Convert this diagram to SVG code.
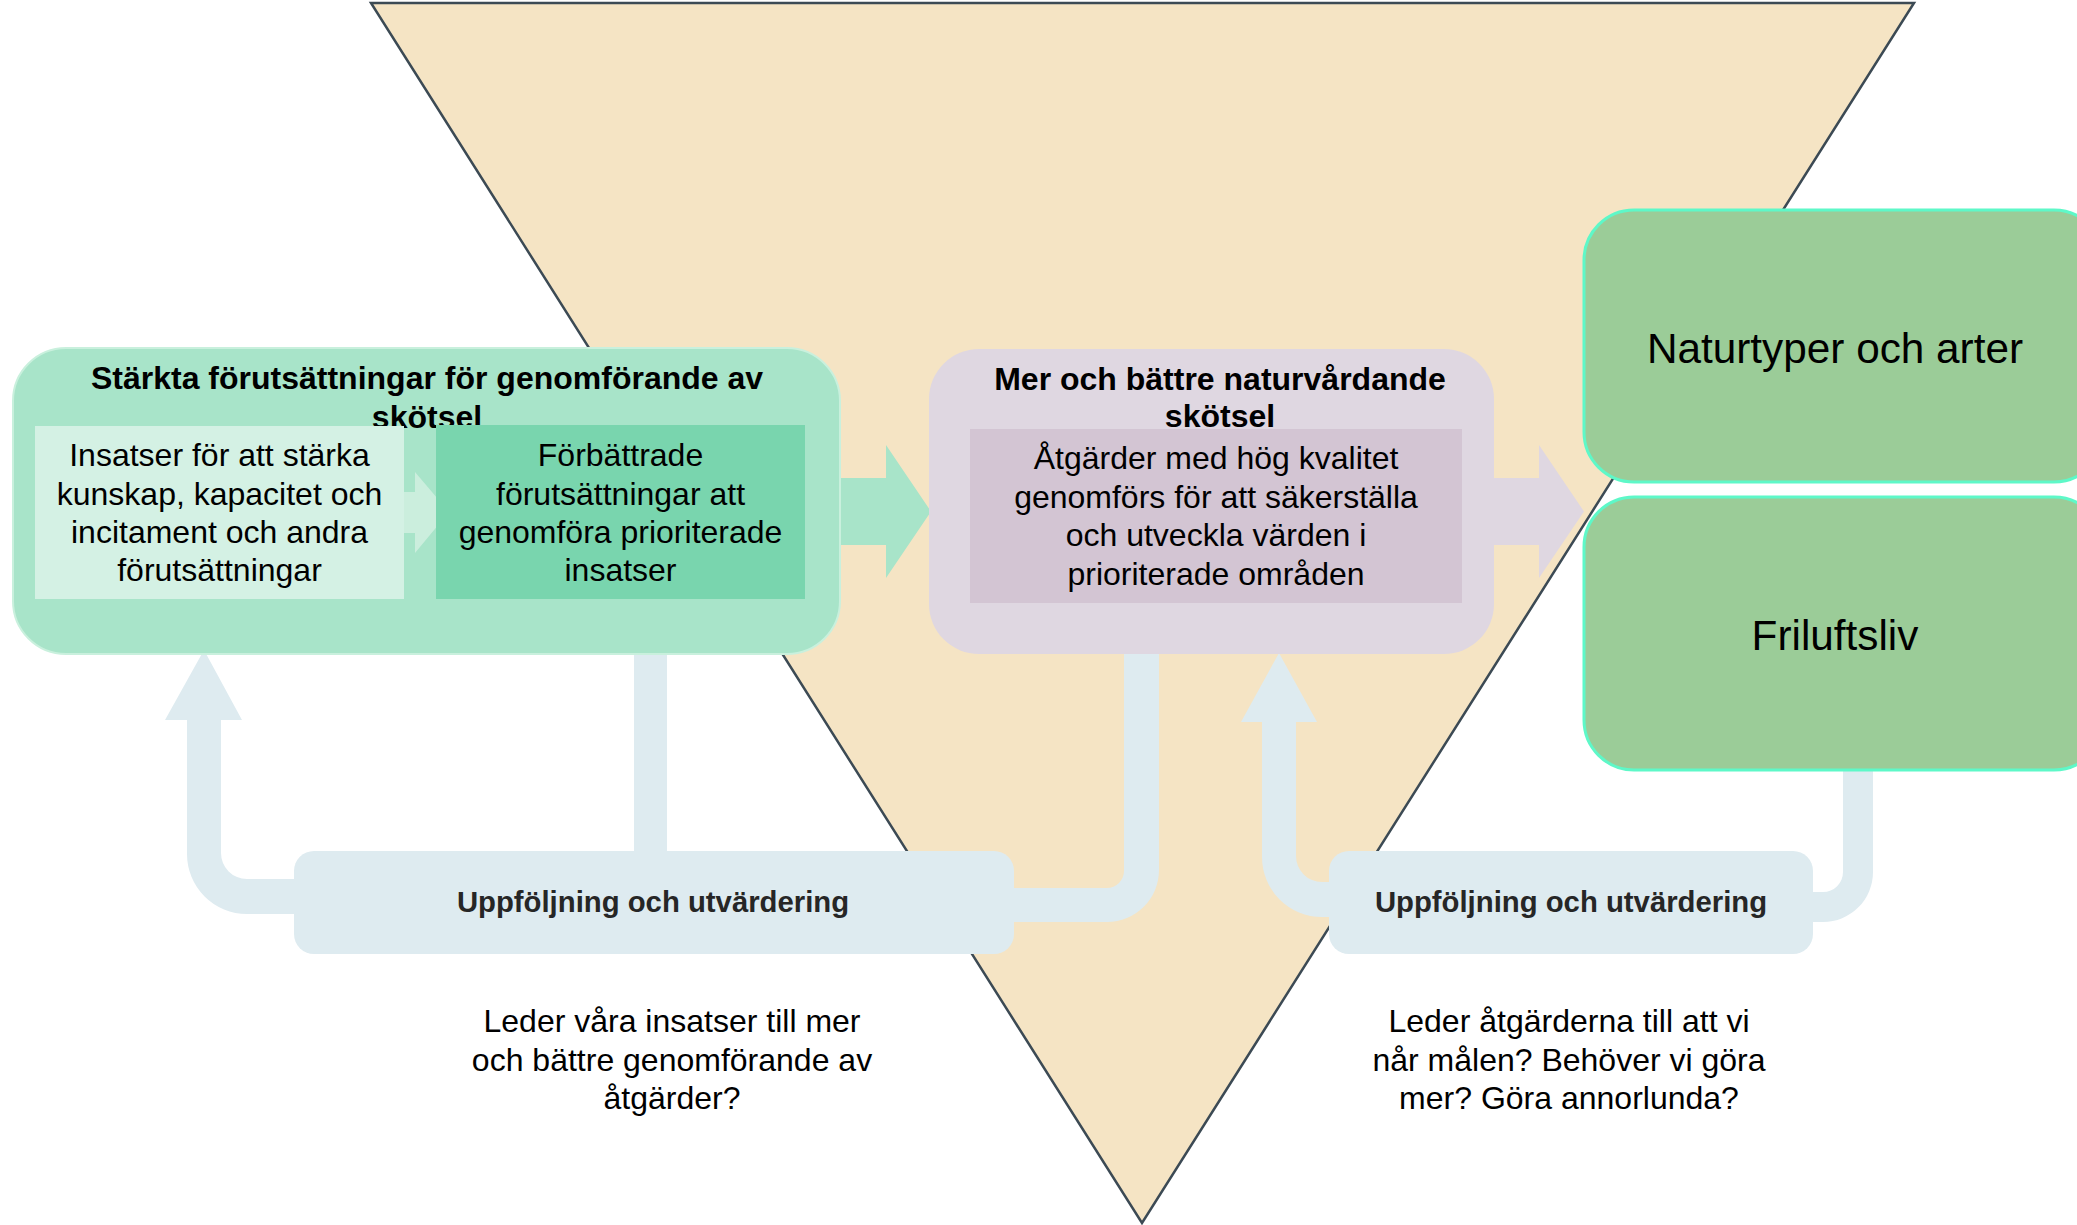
<svg xmlns="http://www.w3.org/2000/svg" width="2077" height="1225" viewBox="0 0 2077 1225">
<style>
text{font-family:"Liberation Sans",Arial,sans-serif;text-anchor:middle;fill:#000}
.t{font-size:32px;font-weight:bold}
.b{font-size:32px}
.fb{font-size:29.3px;font-weight:bold;fill:#262626}
.big{font-size:42.3px}
.loop{fill:#deebf0}
</style>
<rect width="2077" height="1225" fill="#fff"/>
<g id="triangle">
<polygon points="371,3 1914,3 1142,1223" fill="#f5e4c4" stroke="#3c4a54" stroke-width="2.5" stroke-linejoin="miter"/>
</g>
<g id="connectors">
<path class="loop" d="M300,914 L247,914 A60,60 0 0 1 187,854 L187,720 L165,720 L204,650 L242,720 L221,720 L221,853 A26,26 0 0 0 247,879 L300,879 Z"/>
<rect class="loop" x="634" y="645" width="33" height="212"/>
<path class="loop" d="M1159,645 L1159,870 A52,52 0 0 1 1107,922 L1005,922 L1005,888 L1107,888 A17,17 0 0 0 1124,871 L1124,645 Z"/>
<path class="loop" d="M1335,917 L1322,917 A60,60 0 0 1 1262,857 L1262,722 L1241,722 L1279,653 L1317,722 L1296,722 L1296,856 A26,26 0 0 0 1322,882 L1335,882 Z"/>
<path class="loop" d="M1873,765 L1873,872 A50,50 0 0 1 1823,922 L1805,922 L1805,892 L1823,892 A20,20 0 0 0 1843,872 L1843,765 Z"/>
<path fill="#a8e4c9" d="M830,478 L886,478 L886,445 L931,511.5 L886,578 L886,545 L830,545 Z"/>
<path fill="#dfd7e1" d="M1485,478 L1539,478 L1539,445 L1584,511.5 L1539,578 L1539,545 L1485,545 Z"/>
</g>
<g id="node-starkta">
<rect x="13" y="348" width="827" height="306" rx="53" fill="#a8e4c9" stroke="#c9f0dd" stroke-width="2"/>
<text class="t" x="427" y="389">Stärkta förutsättningar för genomförande av</text>
<text class="t" x="427" y="428">skötsel</text>
<path fill="#cbeedd" d="M400,492 L415,492 L415,472 L449,512 L415,553 L415,533 L400,533 Z"/>
<rect x="35" y="426" width="369" height="173" fill="#d4f1e4"/>
<rect x="436" y="425" width="369" height="174" fill="#79d5ae"/>
<text class="b" x="219.5" y="466">Insatser för att stärka</text>
<text class="b" x="219.5" y="504.5">kunskap, kapacitet och</text>
<text class="b" x="219.5" y="543">incitament och andra</text>
<text class="b" x="219.5" y="581">förutsättningar</text>
<text class="b" x="620.5" y="466">Förbättrade</text>
<text class="b" x="620.5" y="504.5">förutsättningar att</text>
<text class="b" x="620.5" y="543">genomföra prioriterade</text>
<text class="b" x="620.5" y="581">insatser</text>
</g>
<g id="node-mer">
<rect x="929" y="349" width="565" height="305" rx="50" fill="#dfd7e1"/>
<text class="t" x="1220" y="390">Mer och bättre naturvårdande</text>
<text class="t" x="1220" y="427">skötsel</text>
<rect x="970" y="429" width="492" height="174" fill="#d3c5d3"/>
<text class="b" x="1216" y="469">Åtgärder med hög kvalitet</text>
<text class="b" x="1216" y="507.5">genomförs för att säkerställa</text>
<text class="b" x="1216" y="546">och utveckla värden i</text>
<text class="b" x="1216" y="584.5">prioriterade områden</text>
</g>
<g id="node-naturtyper">
<rect x="1584" y="210" width="520" height="272" rx="50" fill="#9bcc98" stroke="#5ef8c8" stroke-width="3"/>
<text class="big" x="1835" y="363">Naturtyper och arter</text>
</g>
<g id="node-friluftsliv">
<rect x="1584" y="497" width="520" height="273" rx="50" fill="#9bcc98" stroke="#5ef8c8" stroke-width="3"/>
<text class="big" x="1835" y="650">Friluftsliv</text>
</g>
<g id="node-uppfoljning-1">
<rect x="294" y="851" width="720" height="103" rx="20" fill="#deebf0"/>
<text class="fb" x="653" y="912">Uppföljning och utvärdering</text>
</g>
<g id="node-uppfoljning-2">
<rect x="1329" y="851" width="484" height="103" rx="20" fill="#deebf0"/>
<text class="fb" x="1571" y="912">Uppföljning och utvärdering</text>
</g>
<g id="note-1">
<text class="b" x="672" y="1032">Leder våra insatser till mer</text>
<text class="b" x="672" y="1070.5">och bättre genomförande av</text>
<text class="b" x="672" y="1109">åtgärder?</text>
</g>
<g id="note-2">
<text class="b" x="1569" y="1032">Leder åtgärderna till att vi</text>
<text class="b" x="1569" y="1070.5">når målen? Behöver vi göra</text>
<text class="b" x="1569" y="1109">mer? Göra annorlunda?</text>
</g>
</svg>
